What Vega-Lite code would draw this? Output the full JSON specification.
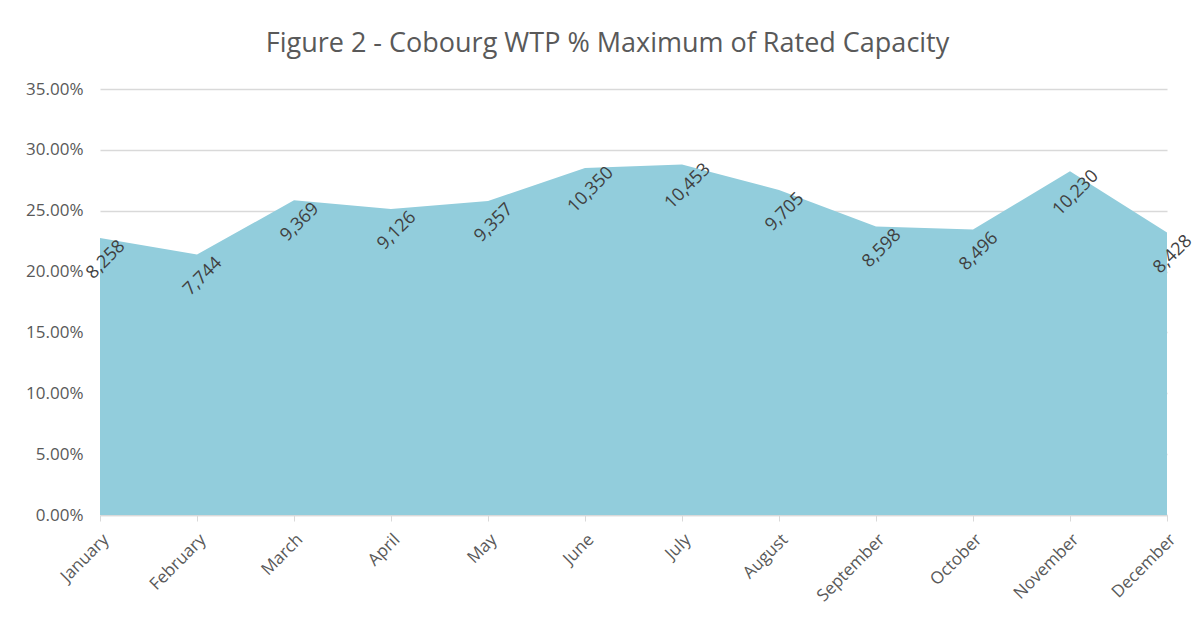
{
  "$schema": "https://vega.github.io/schema/vega-lite/v6.json",
  "width": 1067,
  "height": 426,
  "autosize": "none",
  "padding": {"left": 100, "top": 89, "right": 36, "bottom": 107},
  "background": "white",
  "title": {
    "text": "Figure 2 - Cobourg WTP % Maximum of Rated Capacity",
    "font": "Open Sans",
    "fontSize": 27,
    "fontWeight": "normal",
    "color": "#595959",
    "anchor": "middle",
    "dx": -26,
    "offset": 22
  },
  "data": {
    "values": [
      {"month": "January", "pct": 0.2276, "flow": "8,258"},
      {"month": "February", "pct": 0.2140, "flow": "7,744"},
      {"month": "March", "pct": 0.2585, "flow": "9,369"},
      {"month": "April", "pct": 0.2515, "flow": "9,126"},
      {"month": "May", "pct": 0.2580, "flow": "9,357"},
      {"month": "June", "pct": 0.2850, "flow": "10,350"},
      {"month": "July", "pct": 0.2880, "flow": "10,453"},
      {"month": "August", "pct": 0.2670, "flow": "9,705"},
      {"month": "September", "pct": 0.2370, "flow": "8,598"},
      {"month": "October", "pct": 0.2345, "flow": "8,496"},
      {"month": "November", "pct": 0.2825, "flow": "10,230"},
      {"month": "December", "pct": 0.2320, "flow": "8,428"}
    ]
  },
  "encoding": {
    "x": {
      "field": "month",
      "type": "nominal",
      "sort": null,
      "scale": {"type": "point", "padding": 0},
      "axis": {
        "title": null,
        "labelAngle": -45,
        "labelAlign": "right",
        "labelFont": "Open Sans",
        "labelFontSize": 17,
        "labelColor": "#595959",
        "domainColor": "#d9d9d9",
        "domainWidth": 1.5,
        "tickColor": "#d9d9d9",
        "tickSize": 6,
        "labelPadding": 10,
        "grid": false
      }
    },
    "y": {
      "field": "pct",
      "type": "quantitative",
      "scale": {"domain": [0, 0.35], "nice": false},
      "axis": {
        "title": null,
        "format": ".2%",
        "values": [0, 0.05, 0.1, 0.15, 0.2, 0.25, 0.3, 0.35],
        "labelFont": "Open Sans",
        "labelFontSize": 17,
        "labelColor": "#595959",
        "domain": false,
        "ticks": false,
        "labelPadding": 17,
        "gridColor": "#d9d9d9",
        "gridWidth": 1.5
      }
    }
  },
  "layer": [
    {"mark": {"type": "area", "color": "#92CDDC", "opacity": 1}},
    {
      "mark": {
        "type": "text",
        "angle": -45,
        "font": "Open Sans",
        "fontSize": 18,
        "color": "#404040",
        "align": "center",
        "baseline": "middle",
        "xOffset": 6,
        "yOffset": 22
      },
      "encoding": {"text": {"field": "flow"}}
    }
  ],
  "config": {"view": {"stroke": null}}
}
